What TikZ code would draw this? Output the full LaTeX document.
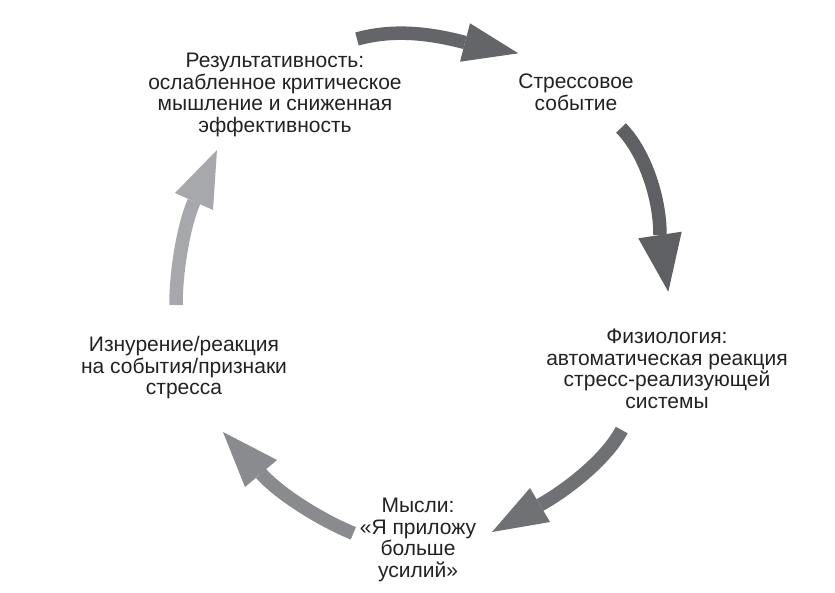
\documentclass[tikz,border=0pt]{standalone}
\usepackage{fontspec}
\setmainfont{Liberation Sans}
\definecolor{txt}{HTML}{222222}
\definecolor{ca}{HTML}{646568}
\definecolor{cb}{HTML}{5F6064}
\definecolor{cc}{HTML}{707174}
\definecolor{cd}{HTML}{8A8B8E}
\definecolor{ce}{HTML}{A7A8AB}
\begin{document}
\begin{tikzpicture}[x=1pt,y=-1pt,
  lbl/.style={align=center, inner sep=0pt, text=txt, font=\fontsize{21}{21.7}\selectfont},
  shaft/.style={line width=13.5pt, line cap=butt},
]
\useasboundingbox[fill=white] (0,0) rectangle (835,592);
% labels
\node[lbl] (result) at (275,95) {Результативность:\\ослабленное критическое\\мышление и сниженная\\эффективность};
\node[lbl] (event) at (576,92) {Стрессовое\\событие};
\node[lbl] (physio) at (667,368.7) {Физиология:\\автоматическая реакция\\стресс-реализующей\\системы};
\node[lbl] (thoughts) at (418,540) {Мысли:\\«Я приложу\\больше\\усилий»};
\node[lbl] (exhaust) at (184,367.7) {Изнурение/реакция\\на события/признаки\\стресса};
% arrow 1: result -> event
\coordinate (a1t) at (357,39);
\coordinate (a1b) at (465,42.5);
\coordinate (a1l) at (470,23.3);
\coordinate (a1r) at (460,61.7);
\coordinate (a1p) at (518.3,53.3);
\draw[shaft, draw=ca] (a1t) .. controls (393,29) and (429,33) .. (a1b);
\fill[ca] (a1l) -- (a1p) -- (a1r) -- cycle;
% arrow 2: event -> physio
\coordinate (a2t) at (621,128);
\coordinate (a2b) at (660,235);
\coordinate (a2l) at (638.3,238.3);
\coordinate (a2r) at (681.7,231.7);
\coordinate (a2p) at (668.3,291.7);
\draw[shaft, draw=cb] (a2t) .. controls (643,150) and (660,195) .. (a2b);
\fill[cb] (a2l) -- (a2p) -- (a2r) -- cycle;
% arrow 3: physio -> thoughts
\coordinate (a3t) at (621.7,430);
\coordinate (a3b) at (540,505);
\coordinate (a3l) at (530,488);
\coordinate (a3r) at (550,522);
\coordinate (a3p) at (492,532);
\draw[shaft, draw=cc] (a3t) .. controls (607,458) and (570,488) .. (a3b);
\fill[cc] (a3l) -- (a3p) -- (a3r) -- cycle;
% arrow 4: thoughts -> exhaust
\coordinate (a4t) at (353.3,533.3);
\coordinate (a4b) at (261,473.5);
\coordinate (a4l) at (277,460);
\coordinate (a4r) at (245,487);
\coordinate (a4p) at (223,432);
\draw[shaft, draw=cd] (a4t) .. controls (323,521) and (281,495.5) .. (a4b);
\fill[cd] (a4l) -- (a4p) -- (a4r) -- cycle;
% arrow 5: exhaust -> result
\coordinate (a5t) at (176,305);
\coordinate (a5b) at (194,201.5);
\coordinate (a5l) at (175,193);
\coordinate (a5r) at (213,210);
\coordinate (a5p) at (217,150);
\draw[shaft, draw=ce] (a5t) .. controls (176,270) and (184,224.5) .. (a5b);
\fill[ce] (a5l) -- (a5p) -- (a5r) -- cycle;
\end{tikzpicture}
\end{document}
